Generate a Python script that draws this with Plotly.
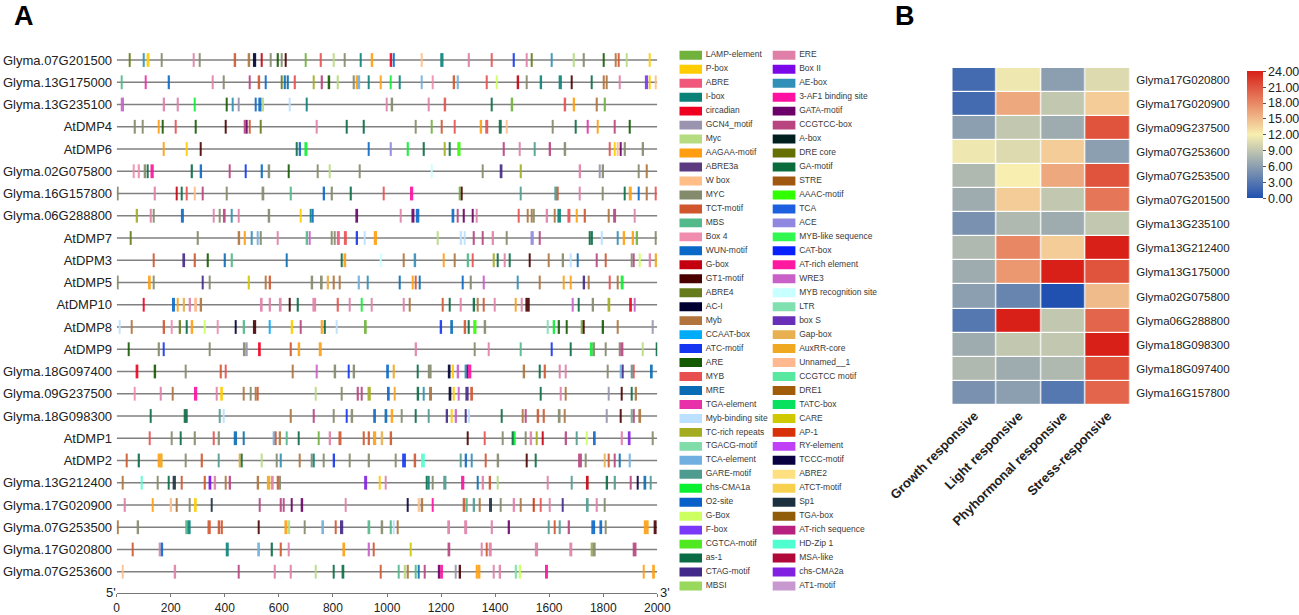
import plotly.graph_objects as go

# Cis-element map (A) and responsive-category heatmap (B)

W, H = 1299, 615

motifs_left = ["LAMP-element", "P-box", "ABRE", "I-box", "circadian", "GCN4_motif", "Myc", "AAGAA-motif", "ABRE3a",
               "W box", "MYC", "TCT-motif", "MBS", "Box 4", "WUN-motif", "G-box", "GT1-motif", "ABRE4", "AC-I", "Myb",
               "CCAAT-box", "ATC-motif", "ARE", "MYB", "MRE", "TGA-element", "Myb-binding site", "TC-rich repeats",
               "TGACG-motif", "TCA-element", "GARE-motif", "chs-CMA1a", "O2-site", "G-Box", "F-box", "CGTCA-motif",
               "as-1", "CTAG-motif", "MBSI"]
colors_left = ["#70b23c", "#ffcc00", "#f0577a", "#0a8278", "#f00020", "#9a94b0", "#b5dc80", "#ff9e10", "#5b3a80",
               "#ffbe88", "#848a6c", "#d0562e", "#52b98a", "#f08cae", "#0a68c8", "#c40010", "#4a0000", "#667c1c",
               "#000030", "#b0743c", "#00acf8", "#1436f0", "#145a00", "#e85050", "#0a6cb4", "#e830a8", "#bce0ff",
               "#a4ac20", "#80dca8", "#70b0e0", "#4e9c90", "#08f030", "#0860c8", "#ccff60", "#7a38f8", "#50e820",
               "#0a6c44", "#422888", "#98d85c"]
motifs_right = ["ERE", "Box II", "AE-box", "3-AF1 binding site", "GATA-motif", "CCGTCC-box", "A-box", "DRE core",
                "GA-motif", "STRE", "AAAC-motif", "TCA", "ACE", "MYB-like sequence", "CAT-box", "AT-rich element",
                "WRE3", "MYB recognition site", "LTR", "box S", "Gap-box", "AuxRR-core", "Unnamed__1", "CCGTCC motif",
                "DRE1", "TATC-box", "CARE", "AP-1", "RY-element", "TCCC-motif", "ABRE2", "ATCT-motif", "Sp1",
                "TGA-box", "AT-rich sequence", "HD-Zip 1", "MSA-like", "chs-CMA2a", "AT1-motif"]
colors_right = ["#e080a8", "#7a08e8", "#3090b8", "#ff10a0", "#6a0068", "#b84480", "#002020", "#667000", "#0a6c3c",
                "#a05810", "#30ff00", "#1c60e0", "#9088e0", "#30f850", "#0820ff", "#ff18a0", "#c860c8", "#c8ffff",
                "#80e0b0", "#6830b8", "#e8b050", "#f0a820", "#ffb890", "#58e8a0", "#a05c08", "#08e060", "#d0c800",
                "#d83008", "#c040f8", "#080040", "#ffe080", "#f8d050", "#1c3040", "#905c08", "#b82080", "#50ffd0",
                "#b00838", "#8020e0", "#c898d0"]

genes = ["Glyma.07G201500", "Glyma.13G175000", "Glyma.13G235100", "AtDMP4", "AtDMP6", "Glyma.02G075800",
         "Glyma.16G157800", "Glyma.06G288800", "AtDMP7", "AtDPM3", "AtDMP5", "AtDMP10", "AtDMP8", "AtDMP9",
         "Glyma.18G097400", "Glyma.09G237500", "Glyma.18G098300", "AtDMP1", "AtDMP2", "Glyma.13G212400",
         "Glyma.17G020900", "Glyma.07G253500", "Glyma.17G020800", "Glyma.07G253600"]

# sites: (position bp, motif) or (position bp, motif, length bp)
s_07G201500 = [(49, "ABRE4"), (101, "AE-box"), (116, "P-box", 11), (166, "MYC"), (284, "ERE"), (308, "MYC"),
               (439, "TCT-motif"), (491, "Myb"), (510, "AC-I", 12), (536, "G-box"), (570, "MYC"), (597, "ARE"),
               (610, "MYC"), (625, "GT1-motif"), (699, "LAMP-element"), (756, "MYB"), (803, "Myc"), (843, "MYC"),
               (903, "I-box"), (946, "AAGAA-motif"), (1016, "circadian"), (1026, "WUN-motif"), (1128, "W box"),
               (1203, "I-box", 12), (1304, "ERE"), (1387, "MYB"), (1470, "ATC-motif"), (1517, "ERE"), (1535, "ABRE4"),
               (1609, "AE-box"), (1692, "Myc"), (1729, "MYC"), (1801, "ARE"), (1847, "Myb"), (1857, "TCT-motif"),
               (1886, "Myc"), (1972, "P-box")]
s_13G175000 = [(18, "MBS"), (108, "TGA-element"), (194, "WUN-motif"), (355, "ERE"), (397, "MYC"), (493, "CCGTCC-box"),
               (528, "TCT-motif"), (552, "WUN-motif"), (610, "ABRE4"), (623, "MRE"), (634, "MRE"), (660, "MYB"),
               (729, "TC-rich repeats"), (760, "CCGTCC-box"), (787, "ARE"), (819, "Myc"), (878, "MYC"),
               (890, "AAGAA-motif"), (898, "TCA-element"), (933, "I-box"), (977, "AAGAA-motif"), (1014, "chs-CMA1a"),
               (1048, "I-box"), (1128, "TCA-element"), (1169, "Box 4"), (1249, "TCT-motif"), (1263, "TCA-element"),
               (1370, "MYB"), (1406, "G-Box"), (1486, "G-box"), (1517, "MYC"), (1571, "I-box"), (1641, "I-box", 12),
               (1683, "GT1-motif"), (1757, "as-1"), (1803, "Myb"), (1812, "Myb"), (1862, "ERE"), (1960, "F-box", 12),
               (1973, "P-box"), (1995, "W box")]
s_13G235100 = [(21, "WRE3", 12), (176, "ERE"), (227, "ERE"), (289, "chs-CMA1a"), (407, "ARE"), (429, "AE-box"),
               (452, "GCN4_motif"), (514, "WUN-motif"), (530, "WUN-motif", 12), (542, "Myc"), (640, "Myb-binding site"),
               (704, "I-box"), (999, "ERE"), (1020, "MYC"), (1155, "ERE"), (1216, "MYB"), (1387, "as-1"),
               (1464, "LAMP-element"), (1660, "MYB"), (1693, "AAGAA-motif"), (1777, "Myb"), (1807, "LAMP-element")]
s_AtDMP4 = [(68, "MYC"), (96, "MYC"), (155, "AAGAA-motif"), (171, "ARE"), (219, "MYB"), (292, "ARE"), (403, "GT1-motif"),
            (475, "CCGTCC-box"), (481, "GATA-motif"), (493, "TCT-motif"), (533, "ABRE4"), (740, "ERE"), (852, "as-1"),
            (915, "as-1"), (1107, "MYC"), (1165, "LAMP-element"), (1202, "TCT-motif"), (1250, "MYB"),
            (1349, "AAGAA-motif"), (1369, "MYB", 11), (1419, "as-1", 11), (1443, "W box"), (1614, "MYC"), (1698, "as-1"),
            (1742, "TGA-element"), (1780, "AAGAA-motif"), (1842, "CCGTCC-box"), (1899, "ARE")]
s_AtDMP6 = [(173, "AAGAA-motif"), (259, "P-box"), (311, "GT1-motif"), (667, "as-1"), (679, "WUN-motif"),
            (700, "chs-CMA1a", 11), (933, "WUN-motif"), (1015, "ACE"), (1078, "chs-CMA1a"), (1137, "as-1"),
            (1214, "TC-rich repeats"), (1233, "as-1"), (1266, "AAAC-motif", 12), (1433, "CCGTCC-box"), (1492, "ERE"),
            (1546, "GARE-motif"), (1604, "CCGTCC-box"), (1660, "MYC"), (1825, "MYB"), (1842, "P-box"), (1854, "W box"),
            (1864, "GATA-motif"), (1881, "MYC"), (1948, "MYC")]
s_02G075800 = [(63, "Box 4"), (83, "Box 4"), (106, "MYC"), (115, "as-1"), (131, "3-AF1 binding site", 12), (279, "as-1"),
               (313, "WUN-motif"), (418, "CCGTCC-box"), (477, "ATC-motif"), (538, "WUN-motif"), (565, "MYC"),
               (636, "ARE"), (744, "MYC"), (789, "Myc"), (900, "MYC"), (1165, "MYB recognition site"), (1354, "MYC"),
               (1422, "CTAG-motif", 10), (1496, "TC-rich repeats"), (1715, "ERE"), (1788, "GCN4_motif"), (1800, "MYC"),
               (1931, "MYC"), (1962, "Myb")]
s_16G157800 = [(4, "MYC"), (142, "ERE"), (222, "G-box"), (240, "as-1"), (260, "MYB"), (290, "W box"), (318, "CCGTCC-box"),
               (408, "MYC"), (541, "MYC", 10), (645, "MBS"), (768, "WUN-motif"), (797, "MYC"), (867, "as-1"), (988, "MYB"),
               (1091, "3-AF1 binding site", 12), (1270, "LAMP-element"), (1277, "GT1-motif"), (1494, "GARE-motif"),
               (1624, "GARE-motif", 10), (1631, "TCT-motif"), (1714, "ERE"), (1799, "MYC"), (1880, "as-1"),
               (1900, "AAGAA-motif", 11), (1931, "WUN-motif"), (1962, "Myb"), (1995, "MYB")]
s_06G288800 = [(76, "TC-rich repeats"), (127, "ERE"), (138, "MYC"), (243, "WUN-motif", 11), (359, "ERE"), (381, "MYC"),
               (398, "CCGTCC-box", 10), (425, "AE-box"), (452, "ERE"), (565, "MYC"), (681, "P-box"), (717, "I-box"),
               (725, "WUN-motif"), (888, "GATA-motif", 10), (1050, "ERE"), (1096, "GATA-motif", 11),
               (1113, "WUN-motif", 13), (1244, "WUN-motif", 10), (1262, "CCGTCC-box"), (1285, "GATA-motif"),
               (1317, "GATA-motif"), (1332, "ERE"), (1487, "MYB"), (1520, "Myb"), (1536, "Myb"), (1544, "MYC"),
               (1593, "ERE"), (1620, "Myb"), (1637, "I-box", 13), (1673, "MYB", 11), (1703, "AAGAA-motif"),
               (1733, "TCT-motif"), (1821, "Myb"), (1842, "CCGTCC-box", 11), (1917, "ERE")]
s_AtDMP7 = [(52, "ABRE4"), (301, "MYC"), (454, "Myb"), (475, "AAGAA-motif"), (499, "AE-box"), (521, "TCA-element"),
            (534, "MYC"), (596, "ERE"), (705, "MBS"), (714, "WRE3"), (795, "MYC"), (806, "MYC"), (820, "ABRE", 11),
            (846, "MYB", 11), (890, "ATC-motif"), (917, "Myb-binding site"), (957, "AAGAA-motif", 12), (1188, "Myc"),
            (1275, "Myb-binding site"), (1288, "Myb-binding site"), (1322, "CCGTCC-box"), (1355, "CCGTCC-box"),
            (1393, "ERE"), (1442, "MYC"), (1537, "ACE", 12), (1566, "CCGTCC-box"), (1751, "as-1"), (1759, "as-1"),
            (1796, "Myb-binding site"), (1853, "AE-box"), (1878, "AAGAA-motif"), (1911, "AAGAA-motif"),
            (1926, "LAMP-element"), (1995, "MYC")]
s_AtDPM3 = [(137, "TCT-motif"), (248, "CTAG-motif", 10), (290, "TCT-motif"), (338, "ARE"), (401, "MRE"), (427, "MBS"),
            (628, "MRE"), (833, "as-1"), (844, "AAGAA-motif", 10), (976, "MYB recognition site"), (1061, "Myb"),
            (1105, "AE-box"), (1209, "AAGAA-motif"), (1251, "Myb"), (1301, "MBS"), (1317, "MYB"),
            (1396, "TC-rich repeats"), (1409, "as-1"), (1436, "ERE"), (1454, "as-1"), (1528, "GT1-motif"), (1599, "Myb"),
            (1652, "MYC"), (1680, "Myb-binding site"), (1706, "MRE"), (1775, "CCGTCC-box"), (1809, "TCT-motif"),
            (1905, "MYC"), (1912, "CCGTCC-box"), (1936, "G-Box"), (1974, "ERE"), (1996, "AuxRR-core")]
s_AtDMP5 = [(4, "MYC"), (121, "AAGAA-motif", 10), (137, "MYC"), (319, "CTAG-motif"), (345, "MYC"), (490, "CARE"),
            (552, "Myb"), (568, "TCT-motif"), (724, "MYC"), (757, "MYC", 10), (783, "Gap-box"), (804, "Myb"),
            (825, "Myb"), (897, "TCA-element"), (928, "AE-box"), (1048, "MRE"), (1096, "AAGAA-motif"), (1107, "TCT-motif"),
            (1122, "MRE"), (1280, "WUN-motif"), (1311, "MYC"), (1359, "WRE3"), (1484, "AE-box"), (1566, "Myb"),
            (1653, "AAGAA-motif"), (1680, "AAGAA-motif"), (1730, "CTAG-motif"), (1746, "Myb"), (1825, "MYB"), (1854, "Myb"),
            (1870, "chs-CMA1a", 11)]
s_AtDMP10 = [(99, "circadian"), (210, "WUN-motif", 11), (226, "AAGAA-motif"), (250, "Gap-box"), (272, "ERE"),
             (292, "Unnamed__1", 11), (313, "Myb"), (535, "ERE", 10), (568, "ERE"), (605, "ERE", 10), (641, "GT1-motif"),
             (671, "as-1"), (731, "ERE", 14), (819, "MYB"), (862, "ERE"), (907, "chs-CMA1a"), (944, "ERE"), (1063, "ERE"),
             (1085, "Myb"), (1206, "TCT-motif"), (1233, "as-1"), (1272, "ERE"), (1323, "as-1"), (1335, "Myb"),
             (1357, "TCT-motif"), (1398, "ERE"), (1477, "AAGAA-motif"), (1498, "ERE"), (1520, "GT1-motif", 16),
             (1688, "WRE3"), (1709, "as-1"), (1763, "MYC"), (1821, "TC-rich repeats", 10), (1901, "circadian", 10),
             (1916, "WRE3")]
s_AtDMP8 = [(11, "Myb-binding site"), (55, "Myb"), (176, "TCT-motif"), (203, "Box 4"), (235, "ABRE4"), (260, "as-1"),
            (280, "AAGAA-motif"), (326, "G-Box"), (374, "Box 4"), (441, "AC-I"), (472, "MBS"), (510, "GT1-motif", 12),
            (567, "CCAAT-box"), (650, "P-box"), (681, "CCGTCC-box"), (760, "AAGAA-motif"), (771, "as-1"),
            (814, "Myb-binding site"), (920, "LAMP-element", 10), (1201, "ATC-motif"), (1239, "MRE", 10),
            (1290, "TCT-motif"), (1302, "as-1"), (1325, "AAAC-motif", 12), (1364, "MYC"), (1595, "LTR"),
            (1619, "chs-CMA1a"), (1637, "ARE"), (1664, "ARE"), (1722, "LAMP-element"), (1728, "GT1-motif"), (1800, "ARE"),
            (1853, "Myb"), (1983, "GCN4_motif")]
s_AtDMP9 = [(44, "ARE"), (157, "MYC"), (174, "ATC-motif"), (345, "MYC"), (472, "MYC", 10), (481, "GCN4_motif"),
            (528, "circadian", 10), (645, "TCT-motif"), (676, "AAGAA-motif"), (753, "AAGAA-motif", 11), (1108, "ERE"),
            (1325, "MYC"), (1377, "ERE"), (1494, "MBS"), (1610, "ATC-motif"), (1680, "as-1"), (1756, "chs-CMA1a", 11),
            (1767, "MYC"), (1810, "MYC"), (1862, "MYC"), (1869, "CCGTCC-box", 11), (1946, "Myc"), (1999, "as-1")]
s_18G097400 = [(75, "circadian", 10), (143, "ARE"), (255, "MYC"), (386, "TCT-motif"), (404, "MYB"), (651, "Myb"),
               (739, "WRE3"), (809, "MYC"), (858, "ATC-motif"), (879, "MYC"), (1002, "WUN-motif", 10), (1026, "AuxRR-core"),
               (1114, "as-1"), (1158, "MYC", 14), (1230, "AC-I", 10), (1245, "P-box"), (1264, "WRE3"), (1292, "AE-box", 10),
               (1299, "GATA-motif"), (1306, "3-AF1 binding site", 12), (1508, "Myb"), (1566, "as-1"), (1585, "TCT-motif"),
               (1640, "ERE"), (1661, "ERE"), (1817, "MYC"), (1865, "TCA-element"), (1872, "CTAG-motif"), (1907, "GARE-motif"),
               (1913, "MYB"), (1978, "MRE", 10)]
s_09G237500 = [(67, "Box 4"), (164, "ERE"), (207, "Myb"), (292, "3-AF1 binding site", 12), (370, "ERE"), (388, "P-box", 10),
               (470, "Myb"), (496, "MYC"), (514, "Myb"), (522, "TCT-motif"), (736, "Myc"), (833, "MYC"), (893, "CCGTCC-box"),
               (907, "CCGTCC-box"), (934, "TC-rich repeats", 12), (1005, "WUN-motif", 10), (1028, "AuxRR-core"), (1116, "as-1"),
               (1135, "AE-box"), (1161, "Myb", 11), (1233, "AC-I", 10), (1248, "P-box"), (1266, "WRE3"), (1296, "CTAG-motif", 12),
               (1313, "TCT-motif", 10), (1568, "as-1"), (1642, "ERE"), (1662, "Myb"), (1820, "GCN4_motif"), (1869, "GT1-motif"),
               (1905, "as-1"), (1922, "Myb")]
s_18G098300 = [(125, "as-1"), (254, "as-1"), (260, "as-1"), (381, "GARE-motif"), (395, "Myb-binding site"), (645, "Myb"),
               (730, "CCGTCC-box"), (803, "MYC"), (851, "ATC-motif"), (872, "MYC"), (954, "WUN-motif", 10), (996, "MRE", 10),
               (1020, "AAGAA-motif"), (1054, "MYC"), (1106, "as-1"), (1155, "GARE-motif"), (1223, "CTAG-motif"), (1240, "P-box"),
               (1256, "WRE3"), (1291, "CTAG-motif"), (1304, "Myb-binding site"), (1425, "as-1"), (1502, "Myb"),
               (1514, "CCGTCC-box"), (1560, "TCT-motif"), (1581, "TCT-motif"), (1637, "MYC", 10), (1657, "Myb"), (1814, "GCN4_motif"),
               (1865, "GT1-motif"), (1905, "MBS"), (1914, "CCGTCC-box"), (1935, "Myb", 10)]
s_AtDMP1 = [(123, "MYB"), (203, "MYC"), (237, "as-1"), (290, "MYC"), (360, "MYB"), (379, "MYC"), (439, "MRE", 12),
            (469, "MRE"), (582, "TCA-element", 10), (589, "TCT-motif"), (605, "Myb"), (629, "MBS"), (673, "as-1"),
            (747, "LAMP-element"), (790, "ERE"), (826, "TCT-motif", 11), (915, "TCT-motif"), (934, "TCT-motif"),
            (954, "AAGAA-motif", 12), (983, "Gap-box"), (1016, "TCT-motif"), (1299, "GT1-motif"), (1362, "MYB"), (1428, "MYC"),
            (1466, "as-1", 10), (1473, "chs-CMA1a"), (1514, "MYC"), (1534, "ERE"), (1553, "TC-rich repeats"), (1577, "G-box"),
            (1663, "CCGTCC-box"), (1701, "GARE-motif"), (1740, "G-Box"), (1767, "WUN-motif", 10), (1870, "ERE"),
            (1896, "chs-CMA2a", 10), (1984, "MYC")]
s_AtDMP2 = [(38, "TCT-motif"), (83, "as-1"), (158, "AAGAA-motif", 13), (165, "AuxRR-core", 10), (255, "MYC"), (316, "TCT-motif"),
            (377, "GARE-motif"), (455, "AuxRR-core"), (462, "as-1"), (536, "Myc"), (593, "MYC"), (608, "AE-box"), (677, "Myb"),
            (721, "MYC"), (730, "I-box"), (766, "MYC"), (805, "ATC-motif"), (863, "MYC"), (934, "MYC"), (1032, "MYC"),
            (1063, "ATC-motif", 14), (1105, "TCT-motif"), (1133, "HD-Zip 1", 14), (1272, "GARE-motif"), (1293, "WUN-motif"),
            (1313, "AE-box"), (1366, "TCT-motif"), (1412, "MYC"), (1516, "GT1-motif"), (1550, "as-1"),
            (1714, "CCGTCC-box", 14), (1736, "MYC"), (1806, "Gap-box"), (1821, "TCT-motif"), (1843, "CCGTCC-box"),
            (1860, "MRE"), (1899, "TCA-element")]
s_13G212400 = [(23, "Myb"), (92, "HD-Zip 1"), (152, "MYC"), (192, "as-1"), (213, "Sp1", 12), (240, "TCT-motif"),
               (327, "TCT-motif"), (345, "Box II", 10), (365, "ERE"), (403, "Myb"), (420, "CCGTCC-box"), (524, "Myb"),
               (562, "AuxRR-core", 13), (576, "ERE", 10), (598, "TCT-motif"), (605, "MYC"), (921, "chs-CMA2a", 11), (974, "P-box"),
               (996, "ERE"), (1148, "as-1"), (1155, "I-box"), (1169, "MYC"), (1214, "GARE-motif", 12), (1280, "3-AF1 binding site", 12),
               (1335, "MRE"), (1356, "ERE"), (1382, "TCT-motif"), (1410, "Myc"), (1594, "ERE"), (1683, "GARE-motif"),
               (1741, "G-box", 10), (1815, "as-1"), (1844, "GARE-motif"), (1902, "CCGTCC-box"), (1927, "TCCC-motif"),
               (1954, "MRE", 10), (1976, "GARE-motif")]
s_17G020900 = [(31, "ERE"), (134, "AAGAA-motif"), (202, "W box"), (223, "Myb"), (271, "MYC"), (291, "P-box", 10), (351, "Sp1"),
               (530, "CCGTCC-box"), (608, "CCGTCC-box"), (618, "CCGTCC-box"), (647, "GATA-motif"), (687, "GATA-motif"), (847, "ERE"),
               (1076, "TCCC-motif"), (1119, "W box"), (1131, "Myb"), (1170, "3-AF1 binding site"), (1285, "TCT-motif", 10),
               (1295, "MBS"), (1323, "GARE-motif"), (1344, "Myb"), (1383, "Sp1", 11), (1420, "MYC"), (1471, "ERE"), (1494, "Myb"),
               (1544, "AP-1"), (1568, "MYB"), (1603, "ERE"), (1651, "CTAG-motif"), (1741, "GARE-motif", 10), (1777, "ERE"),
               (1806, "MYC")]
s_07G253500 = [(5, "Myb"), (80, "MYC"), (259, "MBS", 11), (268, "I-box", 11), (342, "TCT-motif", 12), (380, "TCT-motif"),
               (390, "TCT-motif"), (525, "GT1-motif"), (626, "AAGAA-motif", 11), (639, "Myc"), (695, "MYC"), (762, "TCA-element", 10),
               (811, "TCT-motif"), (832, "CTAG-motif", 12), (933, "MBS", 10), (983, "MYC"), (1015, "MBS"), (1026, "Myb-binding site"),
               (1039, "Myb"), (1228, "ERE", 10), (1291, "ERE", 11), (1389, "ERE"), (1452, "GATA-motif"), (1599, "GARE-motif"),
               (1620, "TCT-motif"), (1640, "GARE-motif"), (1674, "CCGTCC-box"), (1763, "WUN-motif", 14), (1791, "WUN-motif", 10),
               (1809, "MYC"), (1959, "AAGAA-motif", 18), (1992, "GT1-motif", 11)]
s_17G020800 = [(60, "TCT-motif"), (159, "ERE"), (169, "WUN-motif"), (409, "I-box", 11), (525, "TCA-element", 10), (575, "as-1"),
               (608, "TCT-motif"), (636, "ERE"), (840, "AAGAA-motif", 10), (934, "WRE3"), (951, "TCT-motif"), (1087, "CARE"),
               (1229, "CCGTCC-box", 10), (1350, "ERE"), (1369, "TCT-motif"), (1382, "ERE", 11), (1553, "ERE", 12), (1680, "ERE", 11),
               (1757, "TC-rich repeats"), (1766, "MYC", 12), (1916, "CCGTCC-box", 14)]
s_07G253600 = [(23, "W box"), (217, "ERE"), (451, "CCGTCC-box"), (586, "ERE"), (645, "ERE"), (737, "Myc"), (803, "as-1"),
               (837, "as-1", 10), (976, "TCT-motif"), (1043, "MBS"), (1068, "Myc"), (1078, "Myb"), (1106, "MBS"), (1118, "MRE"),
               (1140, "CCGTCC-box"), (1193, "GATA-motif", 10), (1202, "3-AF1 binding site", 10), (1255, "GCN4_motif"),
               (1271, "GT1-motif"), (1331, "AAGAA-motif"), (1340, "AAGAA-motif", 11), (1394, "ERE"), (1419, "ERE"), (1478, "LTR"),
               (1493, "G-Box"), (1590, "3-AF1 binding site", 11), (1950, "AAGAA-motif"), (1986, "AAGAA-motif", 10)]

gene_sites = [s_07G201500, s_13G175000, s_13G235100, s_AtDMP4, s_AtDMP6, s_02G075800, s_16G157800, s_06G288800, s_AtDMP7,
              s_AtDPM3, s_AtDMP5, s_AtDMP10, s_AtDMP8, s_AtDMP9, s_18G097400, s_09G237500, s_18G098300, s_AtDMP1, s_AtDMP2,
              s_13G212400, s_17G020900, s_07G253500, s_17G020800, s_07G253600]

axis_ticks = [0, 200, 400, 600, 800, 1000, 1200, 1400, 1600, 1800, 2000]

heat_genes = ["Glyma17G020800", "Glyma17G020900", "Glyma09G237500", "Glyma07G253600", "Glyma07G253500", "Glyma07G201500",
              "Glyma13G235100", "Glyma13G212400", "Glyma13G175000", "Glyma02G075800", "Glyma06G288800", "Glyma18G098300",
              "Glyma18G097400", "Glyma16G157800"]
heat_categories = ["Growth responsive", "Light responsive", "Phyhormonal responsive", "Stress-responsive"]
heat_values = [[2, 11.5, 6, 10.5], [2, 16, 9, 14], [6, 9, 7, 21], [11.5, 10.5, 14, 6], [8, 12, 16, 21], [7, 14, 9, 19],
               [5, 8, 7, 9], [8, 18, 14, 24], [7, 17, 24, 21], [6, 4, 0, 15], [3, 24, 9, 20], [7, 9, 9, 24], [8, 7, 8, 21],
               [5, 6, 3, 20]]

FONT = "Liberation Sans"
motif_color = dict(zip(motifs_left + motifs_right, colors_left + colors_right))


def px_x(a, b):
    return [a / W, b / W]


def px_y(top, bottom):
    return [1 - bottom / H, 1 - top / H]


fig = go.Figure()

# panel A: one bar trace per gene, backbones go in as shapes below the bars
for row, sites in enumerate(gene_sites):
    pos = [s[0] for s in sites]
    lens = [s[2] if len(s) > 2 else 5.5 for s in sites]
    fig.add_trace(go.Bar(x=pos, y=[0.62] * len(sites), base=row - 0.31, width=lens, xaxis="x", yaxis="y",
                         marker=dict(color=[motif_color[s[1]] for s in sites], line_width=0), opacity=0.9,
                         showlegend=False, hoverinfo="skip"))

# element legend: two columns of swatches
for col, (names, cols) in enumerate([(motifs_left, colors_left), (motifs_right, colors_right)]):
    rows = list(range(len(names)))
    fig.add_trace(go.Bar(y=rows, x=[0.243] * len(rows), base=col, orientation="h", width=0.64, xaxis="x3", yaxis="y3",
                         marker=dict(color=cols, line_width=0), showlegend=False, hoverinfo="skip"))
    fig.add_trace(go.Scatter(x=[col + 0.283] * len(rows), y=rows, text=names, mode="text", textposition="middle right",
                             textfont=dict(family=FONT, size=8.5, color="#3a3a3a"), xaxis="x3", yaxis="y3", cliponaxis=False,
                             showlegend=False, hoverinfo="skip"))

# panel B
fig.add_trace(go.Heatmap(z=heat_values, x=heat_categories, y=heat_genes, xaxis="x2", yaxis="y2", zmin=0, zmax=24, xgap=1.2, ygap=1.2,
                         colorscale=[[0, "#2050b0"], [0.5, "#f8eeb0"], [1, "#d82018"]],
                         colorbar=dict(x=1247 / W, xanchor="left", y=1 - 198.3 / H, yanchor="bottom", xpad=0, ypad=0,
                                       lenmode="pixels", len=126.6, thicknessmode="pixels", thickness=15.7, outlinewidth=0,
                                       tickmode="array", tickvals=list(range(0, 25, 3)), tickformat=".2f", ticks="outside",
                                       ticklen=3, tickwidth=1, tickcolor="#555", tickfont=dict(family=FONT, size=12.5, color="#222"))))

shapes = [dict(type="line", xref="x", yref="y", x0=0, x1=2000, y0=i, y1=i, layer="below", line=dict(color="#808080", width=1.6))
          for i in range(len(genes))]

annotations = [dict(text=txt, x=x / W, y=1 - y / H, xref="paper", yref="paper", showarrow=False, xanchor="center", yanchor="middle",
                    font=dict(family=FONT, size=size, color=color))
               for txt, x, y, size, color in [("<b>A</b>", 24, 16, 27, "black"), ("<b>B</b>", 905, 16, 27, "black"),
                                              ("5'", 110.5, 592, 13, "#222"), ("3'", 665, 592, 13, "#222")]]

fig.update_layout(
    width=W, height=H, margin=dict(l=0, r=0, t=0, b=0, autoexpand=False), paper_bgcolor="white", plot_bgcolor="white",
    barmode="overlay", showlegend=False, shapes=shapes, annotations=annotations,
    xaxis=dict(domain=px_x(116.7, 657.3), range=[0, 2000], anchor="y", showgrid=False, zeroline=False, showline=True,
               linecolor="#777", linewidth=1, tickmode="array", tickvals=axis_ticks, ticks="outside", ticklen=3, tickcolor="#777",
               tickfont=dict(family=FONT, size=12, color="#222")),
    yaxis=dict(domain=px_y(40, 593.3), range=[23.97, -0.9], anchor="x", showgrid=False, zeroline=False, showline=False,
               tickmode="array", tickvals=list(range(len(genes))), ticktext=genes, ticks="outside", ticklen=1, tickcolor="white",
               tickfont=dict(family=FONT, size=13, color="#222")),
    xaxis2=dict(domain=px_x(952.3, 1130), anchor="y2", showgrid=False, zeroline=False, tickangle=-45, ticks="",
                tickfont=dict(family=FONT, size=13, color="#222", weight="bold")),
    yaxis2=dict(domain=px_y(68, 404.7), anchor="x2", side="right", autorange="reversed", showgrid=False, zeroline=False, ticks="outside",
                ticklen=3, tickcolor="white", tickfont=dict(family=FONT, size=11.5, color="#222")),
    xaxis3=dict(domain=px_x(679.3, 866.1), range=[0, 2], anchor="y3", visible=False),
    yaxis3=dict(domain=px_y(48.3, 593), range=[38.5, -0.5], anchor="x3", visible=False),
)

# the page's default body margin would shift the figure by 8px
fig.write_html("out.html", config={"displayModeBar": False}, post_script="document.body.style.margin = '0';")
